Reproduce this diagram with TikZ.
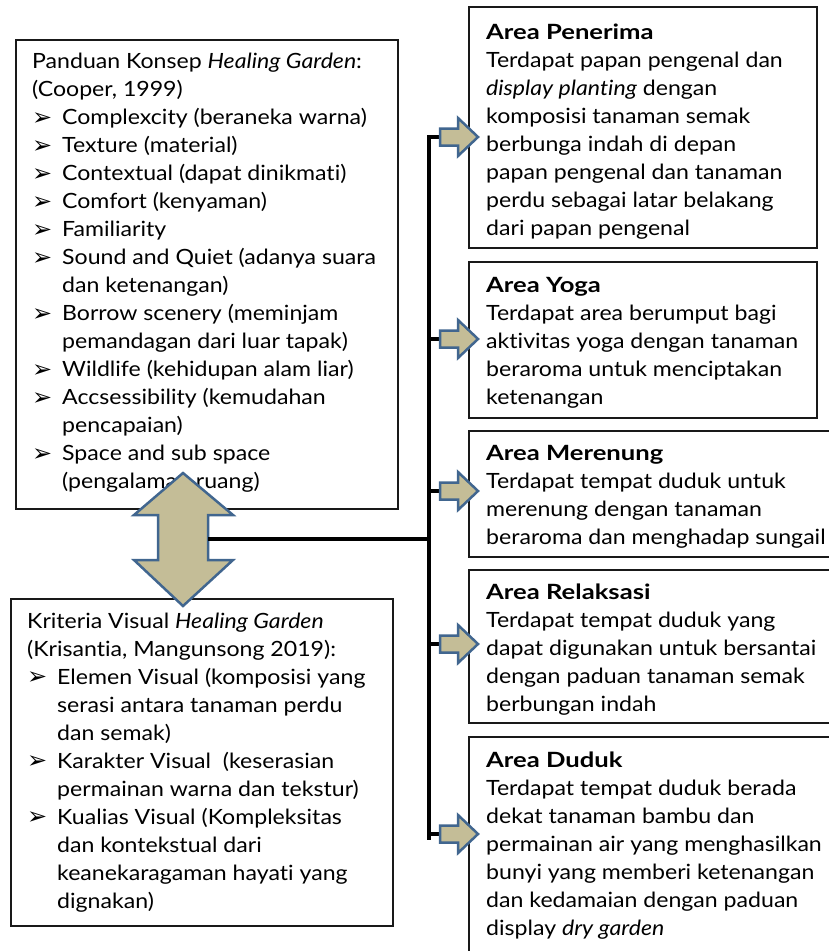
\documentclass[tikz,border=0pt]{standalone}
\usepackage{fontspec}
\setmainfont{Lato}[Ligatures={NoCommon},FakeStretch=1.10,BoldFeatures={FakeStretch=1.22}]
\newfontfamily\dvfont{DejaVu Sans}
\definecolor{tanfill}{HTML}{C4BD97}
\definecolor{arrowblue}{HTML}{41668F}
\newcommand{\bul}{\raisebox{-0.5pt}{\dvfont\fontsize{24}{28}\selectfont ➢}}
\begin{document}
\begin{tikzpicture}[x=1pt,y=-1pt,
  box/.style={draw=black!90,line width=1.5pt},
  txt/.style={inner sep=0pt,anchor=north west,font=\fontsize{21}{28}\selectfont},
  blockarrow/.style={fill=tanfill,draw=arrowblue,line width=2.5pt,line join=miter},
  conn/.style={line width=4pt,black}]
\useasboundingbox (0,0) rectangle (829,951);
% left boxes
\draw[box] (16,40) rectangle (398,509);
\node[txt] (concept) at (32,49) {\begin{tabular}{@{}p{30pt}@{}l@{}}
\multicolumn{2}{@{}l@{}}{Panduan Konsep \textit{Healing Garden}:}\\
\multicolumn{2}{@{}l@{}}{(Cooper, 1999)}\\
\bul & Complexcity (beraneka warna)\\
\bul & Texture (material)\\
\bul & Contextual (dapat dinikmati)\\
\bul & Comfort (kenyaman)\\
\bul & Familiarity\\
\bul & Sound and Quiet (adanya suara\\
 & dan ketenangan)\\
\bul & Borrow scenery (meminjam\\
 & pemandagan dari luar tapak)\\
\bul & Wildlife (kehidupan alam liar)\\
\bul & Accsessibility (kemudahan\\
 & pencapaian)\\
\bul & Space and sub space\\
 & (pengalaman ruang)
\end{tabular}};
\draw[box] (11,599) rectangle (393,926);
\node[txt] (visual) at (27,608.5) {\begin{tabular}{@{}p{30pt}@{}l@{}}
\multicolumn{2}{@{}l@{}}{Kriteria Visual \textit{Healing Garden}}\\
\multicolumn{2}{@{}l@{}}{(Krisantia, Mangunsong 2019):}\\
\bul & Elemen Visual (komposisi yang\\
 & serasi antara tanaman perdu\\
 & dan semak)\\
\bul & Karakter Visual \ (keserasian\\
 & permainan warna dan tekstur)\\
\bul & Kualias Visual (Kompleksitas\\
 & dan kontekstual dari\\
 & keanekaragaman hayati yang\\
 & dignakan)
\end{tabular}};
% right boxes
\draw[box] (469,7) rectangle (817,248);
\node[txt] (penerima) at (486,19.5) {\begin{tabular}{@{}l@{}}
\textbf{Area Penerima}\\
Terdapat papan pengenal dan\\
\textit{display planting} dengan\\
komposisi tanaman semak\\
berbunga indah di depan\\
papan pengenal dan tanaman\\
perdu sebagai latar belakang\\
dari papan pengenal
\end{tabular}};
\draw[box] (469,262) rectangle (817,418);
\node[txt] (yoga) at (486,272.5) {\begin{tabular}{@{}l@{}}
\textbf{Area Yoga}\\
Terdapat area berumput bagi\\
aktivitas yoga dengan tanaman\\
beraroma untuk menciptakan\\
ketenangan
\end{tabular}};
\draw[box] (469,431) rectangle (840,557);
\node[txt] (merenung) at (486,440.5) {\begin{tabular}{@{}l@{}}
\textbf{Area Merenung}\\
Terdapat tempat duduk untuk\\
merenung dengan tanaman\\
beraroma dan menghadap sungail
\end{tabular}};
\draw[box] (469,570) rectangle (840,723);
\node[txt] (relaksasi) at (486,579.5) {\begin{tabular}{@{}l@{}}
\textbf{Area Relaksasi}\\
Terdapat tempat duduk yang\\
dapat digunakan untuk bersantai\\
dengan paduan tanaman semak\\
berbungan indah
\end{tabular}};
\draw[box] (469,737) rectangle (840,970);
\node[txt] (duduk) at (486,747.5) {\begin{tabular}{@{}l@{}}
\textbf{Area Duduk}\\
Terdapat tempat duduk berada\\
dekat tanaman bambu dan\\
permainan air yang menghasilkan\\
bunyi yang memberi ketenangan\\
dan kedamaian dengan paduan\\
display \textit{dry garden}
\end{tabular}};
% double arrow
\draw[blockarrow] (183,473) -- (233,515) -- (208,515) -- (208,560) -- (233,560)
  -- (183,606) -- (134,560) -- (158,560) -- (158,515) -- (134,515) -- cycle;
\coordinate (dbl) at (208,539);
% spine
\coordinate (spinetop) at (428.5,135);
\coordinate (spinebot) at (428.5,840);
\coordinate (spinemid) at (428.5,539);
\draw[conn] (spinetop) -- (spinebot);
\draw[conn] (dbl) -- (spinemid);
% right arrows
\foreach \c/\n in {137/a,339/b,491/c,644/d,834/e}{
  \coordinate (b\n) at (428.5,\c);
  \coordinate (ar\n) at (440,\c);
  \draw[conn] (b\n) -- (ar\n);
  \draw[blockarrow] (440,\c-8.5) -- (458,\c-8.5) -- (458,\c-19) -- (478,\c)
    -- (458,\c+19) -- (458,\c+8.5) -- (440,\c+8.5) -- cycle;
}
\end{tikzpicture}
\end{document}
